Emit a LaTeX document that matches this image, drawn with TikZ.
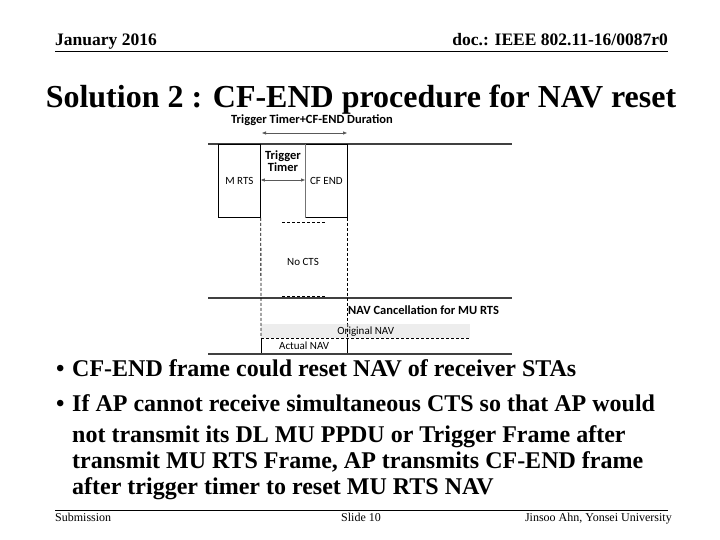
\documentclass[tikz,border=0pt]{standalone}
\usepackage{fontspec}
\setmainfont{Liberation Serif}
\newfontfamily\calfont{Carlito}
\usetikzlibrary{arrows.meta}
\begin{document}
\begin{tikzpicture}[x=1pt,y=-1pt,
  hdr/.style={font=\fontsize{17.5}{20}\selectfont\bfseries, inner sep=0pt},
  ftr/.style={font=\fontsize{12}{14}\selectfont, inner sep=0pt},
  bul/.style={font=\fontsize{24}{28}\selectfont\bfseries, inner sep=0pt, anchor=base west},
  lbl/.style={font=\calfont\fontsize{11}{12}\selectfont, inner sep=0pt},
  blbl/.style={font=\calfont\bfseries\fontsize{12.5}{12.5}\selectfont, inner sep=0pt},
  framebox/.style={draw=black, line width=0.8pt, anchor=north west, inner sep=0pt,
     font=\calfont\fontsize{11}{12}\selectfont},
  medium/.style={draw=black!75, line width=1.8pt},
  dsh/.style={draw=black, line width=0.8pt, dash pattern=on 3pt off 2pt},
  dimarrow/.style={draw=black!65, line width=0.8pt, {Triangle[length=4pt,width=3pt]}-{Triangle[length=4pt,width=3pt]}}
]
\useasboundingbox (0,0) rectangle (720,540);

% header
\node[hdr, anchor=base west] (date) at (55,46) {January 2016};
\node[hdr, anchor=base east] (doc) at (668,46) {doc.: IEEE 802.11-16/0087r0};
\coordinate (hl) at (55,51); \coordinate (hr) at (668,51);
\draw[line width=0.8pt] (hl) -- (hr);

% title
\node[font=\fontsize{32}{36}\selectfont\bfseries, inner sep=0pt, anchor=base] (title) at (361,108)
  {Solution 2 : CF-END procedure for NAV reset};

% diagram
\node[blbl] (durl) at (312,120) {Trigger Timer+CF-END Duration};
\coordinate (d1) at (262,133); \coordinate (d2) at (347,133);
\draw[dimarrow] (d1) -- (d2);

\coordinate (m1l) at (208,144); \coordinate (m1r) at (512,144);
\draw[medium] (m1l) -- (m1r);

\node[framebox, minimum width=42pt, minimum height=73pt] (mrts) at (218,144) {M RTS};
\node[framebox, minimum width=42pt, minimum height=73pt] (cfend) at (305,144) {CF END};
\draw[black!55, line width=0.8pt] (cfend.north west) -- (cfend.south west);

\node[blbl, align=center] (tt) at (283,161) {Trigger\\Timer};
\draw[dimarrow] (mrts.east |- 0,180) -- (cfend.west |- 0,180);

\coordinate (c1) at (282,222); \coordinate (c2) at (325,222);
\draw[dsh] (c1) -- (c2);

\node[lbl] (nocts) at (303,262) {No CTS};

\coordinate (m2l) at (208,298); \coordinate (m2r) at (512,298);
\draw[medium] (m2l) -- (m2r);
\coordinate (c3) at (282,296); \coordinate (c4) at (325,296);
\draw[dsh] (c3) -- (c4);

\node[blbl, anchor=west] (cancel) at (348,310) {NAV Cancellation for MU RTS};

\node[fill=black!7, minimum width=209pt, minimum height=14pt, anchor=north west, inner sep=0pt,
      font=\calfont\fontsize{11}{12}\selectfont] (orig) at (261,324) {Original NAV};
\draw[dsh] (orig.south west) -- (orig.south east);

\node[minimum width=86pt, minimum height=16pt, anchor=north west, inner sep=0pt,
      font=\calfont\fontsize{11}{12}\selectfont] (actual) at (261,338) {Actual NAV};
\draw[line width=0.8pt] (actual.north west) -- (actual.south west);
\draw[line width=0.8pt] (actual.north east) -- (actual.south east);

\coordinate (m3l) at (208,354); \coordinate (m3r) at (512,354);
\draw[medium] (m3l) -- (m3r);

\draw[dsh] (mrts.south east) -- (actual.north west);
\draw[dsh] (cfend.south east) -- (orig.north -| cfend.east);
\draw[dsh] (orig.north -| cfend.east) -- (actual.north east);

% bullets
\node[bul] (b1) at (56,376) {•};
\node[bul] (t1) at (72,376) {CF-END frame could reset NAV of receiver STAs};
\node[bul] (b2) at (56,411) {•};
\node[bul] (t2) at (72,411) {If AP cannot receive simultaneous CTS so that AP would};
\node[bul] (t3) at (72,442) {not transmit its DL MU PPDU or Trigger Frame after};
\node[bul] (t4) at (72,468) {transmit MU RTS Frame, AP transmits CF-END frame};
\node[bul] (t5) at (72,494) {after trigger timer to reset MU RTS NAV};

% footer
\coordinate (fl) at (55,510); \coordinate (fr) at (668,510);
\draw[line width=0.8pt] (fl) -- (fr);
\node[ftr, anchor=base west] (sub) at (55,521) {Submission};
\node[ftr, anchor=base] (slide) at (361,521) {Slide 10};
\node[ftr, anchor=base east] (auth) at (672,521) {Jinsoo Ahn, Yonsei University};
\end{tikzpicture}
\end{document}
